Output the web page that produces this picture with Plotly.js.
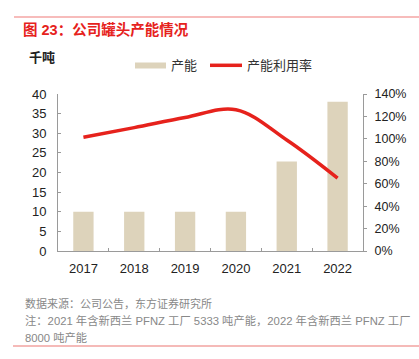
<!DOCTYPE html>
<html>
<head>
<meta charset="utf-8">
<script src="https://cdn.plot.ly/plotly-3.0.1.min.js"></script>
<style>html,body{margin:0;padding:0;background:#fff;}#chart{width:419px;height:359px;}</style>
</head>
<body>
<div id="chart"></div>
<script>
// ---- data ----
const years = ["2017", "2018", "2019", "2020", "2021", "2022"];
const capacity = [10, 10, 10, 10, 22.8, 38];          // 千吨
const utilization = [1.015, 1.10, 1.19, 1.26, 0.99, 0.65]; // 产能利用率
const leftTicks = [0, 5, 10, 15, 20, 25, 30, 35, 40];
const rightTicks = [0, 0.2, 0.4, 0.6, 0.8, 1.0, 1.2, 1.4];
const titleText = "图 23：公司罐头产能情况";
const unitText = "千吨";
const barName = "产能";
const lineName = "产能利用率";
const sourceText = "数据来源：公司公告，东方证券研究所";
const noteLine1 = "注：2021 年含新西兰 PFNZ 工厂 5333 吨产能，2022 年含新西兰 PFNZ 工厂";
const noteLine2 = "8000 吨产能";

// ---- layout helpers (pixel -> paper) ----
const L = 58, R = 363, T = 94, B = 251;
const W = 419, H = 359;
const px = x => (x - L) / (R - L);
const py = y => (B - y) / (B - T);

const FONT = "Liberation Sans, Arial, Noto Sans CJK SC, sans-serif";
const barColor = "#ddd3bb";
const lineColor = "#e6221c";
const axisColor = "#9a9a9a";

const traces = [
  {
    type: "bar", x: years, y: capacity, name: barName,
    marker: {color: barColor}, yaxis: "y", showlegend: false,
    hoverinfo: "skip"
  },
  {
    type: "scatter", mode: "lines", x: years, y: utilization, name: lineName,
    line: {color: lineColor, width: 3.5, shape: "spline", smoothing: 1},
    yaxis: "y2", showlegend: false, hoverinfo: "skip"
  }
];

const layout = {
  width: W, height: H,
  margin: {l: L, r: W - R, t: T, b: H - B, pad: 0},
  paper_bgcolor: "#fff", plot_bgcolor: "#fff",
  font: {family: FONT, size: 13, color: "#222"},
  bargap: 0.6,
  title: {
    text: "<b>" + titleText + "</b>",
    x: 23 / W, xanchor: "left", xref: "container",
    y: 1 - 30 / H, yanchor: "middle", yref: "container",
    font: {size: 14.5, color: "#e6221c", family: FONT}
  },
  xaxis: {
    type: "category", showgrid: false, zeroline: false,
    showline: true, linecolor: axisColor, linewidth: 1,
    ticks: "inside", ticklen: 3, tickcolor: axisColor, tickson: "boundaries",
    tickfont: {size: 13, color: "#222"}, ticklabelstandoff: 5,
    fixedrange: true
  },
  yaxis: {
    range: [0, 40], tickvals: leftTicks, ticktext: leftTicks.map(String),
    showgrid: false, zeroline: false,
    showline: true, linecolor: axisColor, linewidth: 1,
    ticks: "inside", ticklen: 3, tickcolor: axisColor,
    tickfont: {size: 13, color: "#222"}, ticklabelstandoff: 8,
    fixedrange: true
  },
  yaxis2: {
    overlaying: "y", side: "right",
    range: [0, 1.4], tickvals: rightTicks,
    ticktext: rightTicks.map(v => Math.round(v * 100) + "%"),
    showgrid: false, zeroline: false,
    showline: true, linecolor: axisColor, linewidth: 1,
    ticks: "outside", ticklen: 3, tickcolor: axisColor,
    tickfont: {size: 12.5, color: "#222"}, ticklabelstandoff: 5,
    fixedrange: true
  },
  shapes: [
    {type: "line", xref: "paper", yref: "paper", x0: px(14), x1: px(419), y0: py(17), y1: py(17),
     line: {color: "#ef7b78", width: 1.2}},
    {type: "line", xref: "paper", yref: "paper", x0: px(13), x1: px(419), y0: py(346), y1: py(346),
     line: {color: "#f2a3a0", width: 1.5}},
    {type: "rect", xref: "paper", yref: "paper", x0: px(135), x1: px(166), y0: py(62.5), y1: py(68.5),
     fillcolor: barColor, line: {width: 0}},
    {type: "line", xref: "paper", yref: "paper", x0: px(210), x1: px(242), y0: py(65.3), y1: py(65.3),
     line: {color: lineColor, width: 3.5}}
  ],
  annotations: [
    {text: "<b>" + unitText + "</b>", xref: "paper", yref: "paper", x: px(27), y: py(57),
     xanchor: "left", yanchor: "middle", showarrow: false, font: {size: 13, color: "#222"}},
    {text: barName, xref: "paper", yref: "paper", x: px(169), y: py(65.5),
     xanchor: "left", yanchor: "middle", showarrow: false, font: {size: 13, color: "#333"}},
    {text: lineName, xref: "paper", yref: "paper", x: px(245), y: py(65.5),
     xanchor: "left", yanchor: "middle", showarrow: false, font: {size: 13, color: "#333"}},
    {text: sourceText, xref: "paper", yref: "paper", x: px(23), y: py(303),
     xanchor: "left", yanchor: "middle", showarrow: false, font: {size: 11, color: "#888"}},
    {text: noteLine1, xref: "paper", yref: "paper", x: px(23), y: py(320),
     xanchor: "left", yanchor: "middle", showarrow: false, font: {size: 11.3, color: "#888"}},
    {text: noteLine2, xref: "paper", yref: "paper", x: px(23), y: py(337),
     xanchor: "left", yanchor: "middle", showarrow: false, font: {size: 11.3, color: "#888"}}
  ]
};

Plotly.newPlot("chart", traces, layout, {displayModeBar: false, staticPlot: true});
</script>
</body>
</html>
